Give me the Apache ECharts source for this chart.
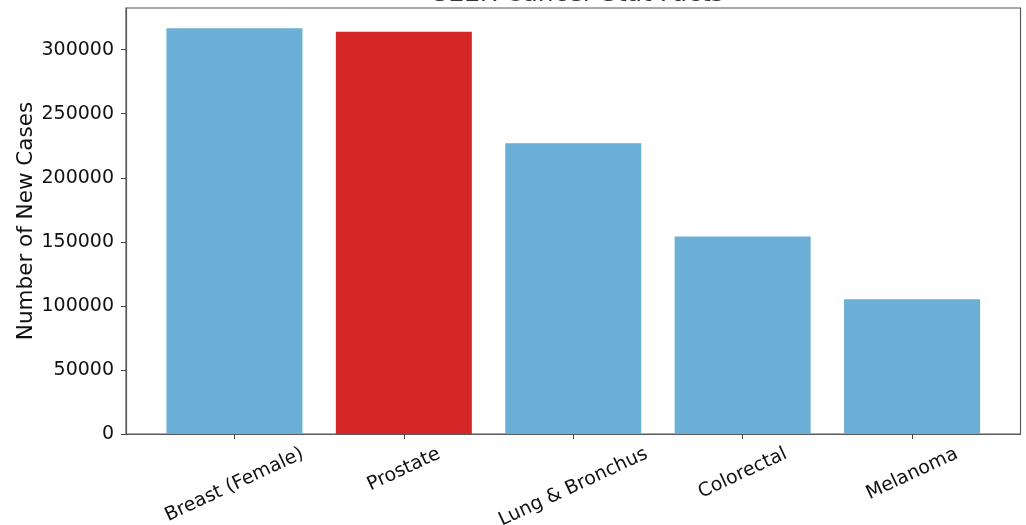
<!DOCTYPE html>
<html>
<head>
<meta charset="utf-8">
<script src="https://cdn.jsdelivr.net/npm/echarts@6/dist/echarts.min.js"></script>
<style>html,body{margin:0;padding:0;background:#fff}#c{width:1026px;height:525px}</style>
</head>
<body>
<div id="c"></div>
<script>
const categories = ['Breast (Female)', 'Prostate', 'Lung & Bronchus', 'Colorectal', 'Melanoma'];
const newCases = [316600, 314000, 226900, 154100, 105100];
const barColors = ['#6baed6', '#d62728', '#6baed6', '#6baed6', '#6baed6'];
const yTicks = [0, 50000, 100000, 150000, 200000, 250000, 300000];
const titleText = 'SEER Cancer Stat Facts';

const FONT = 'DejaVu Sans';
const LABEL_SIZE = 19;
const TEXT_COLOR = '#111';
const ROT = 25 * Math.PI / 180;

// measure label widths to emulate matplotlib's rotated, centered, top-aligned tick labels
const cv = document.createElement('canvas').getContext('2d');
cv.font = LABEL_SIZE + 'px "' + FONT + '"';
const rich = {};
categories.forEach((c, i) => {
  const w = cv.measureText(c).width;
  rich['l' + i] = {
    fontFamily: FONT, fontSize: LABEL_SIZE, color: TEXT_COLOR,
    padding: [w * Math.sin(ROT) * Math.cos(ROT), w * Math.sin(ROT) * Math.sin(ROT), 0, 0]
  };
});

const chart = echarts.init(document.getElementById('c'), null, {renderer: 'canvas'});
chart.setOption({
  animation: false,
  backgroundColor: '#fff',
  title: {
    text: titleText, left: 573, textAlign: 'center', top: -23,
    textStyle: {fontFamily: FONT, fontSize: 25, fontWeight: 'normal', color: '#333'}
  },
  grid: {left: 126, right: 5.5, top: 8, bottom: 91, show: true, borderColor: '#5a5a5a', borderWidth: 1.2,
    backgroundColor: 'transparent', outerBoundsMode: 'none', containLabel: false},
  xAxis: {
    type: 'value', min: -0.64, max: 4.64,
    splitLine: {show: false},
    axisLine: {show: true, onZero: false, lineStyle: {color: '#5a5a5a', width: 1.2}},
    axisTick: {show: true, length: 5, customValues: categories.map((c, i) => i), lineStyle: {color: '#444'}},
    axisLabel: {
      customValues: categories.map((c, i) => i),
      rotate: 25, align: 'center', verticalAlign: 'middle', margin: 19,
      formatter: v => { const i = Math.round(v); return '{l' + i + '|' + categories[i] + '}'; },
      rich: rich
    }
  },
  yAxis: {
    type: 'value', min: 0, max: 332500,
    name: 'Number of New Cases', nameLocation: 'middle', nameGap: 89, nameMoveOverlap: false,
    nameTextStyle: {fontFamily: FONT, fontSize: 21.5, color: TEXT_COLOR},
    splitLine: {show: false},
    axisLine: {show: true, onZero: false, lineStyle: {color: '#5a5a5a', width: 1.2}},
    axisTick: {show: true, length: 5, customValues: yTicks, lineStyle: {color: '#444'}},
    axisLabel: {customValues: yTicks, margin: 12, fontFamily: FONT, fontSize: LABEL_SIZE, color: TEXT_COLOR,
      formatter: v => String(v)}
  },
  series: [{
    type: 'bar',
    barWidth: 136,
    data: newCases.map((v, i) => ({value: [i, v], itemStyle: {color: barColors[i]}}))
  }]
});
</script>
</body>
</html>
